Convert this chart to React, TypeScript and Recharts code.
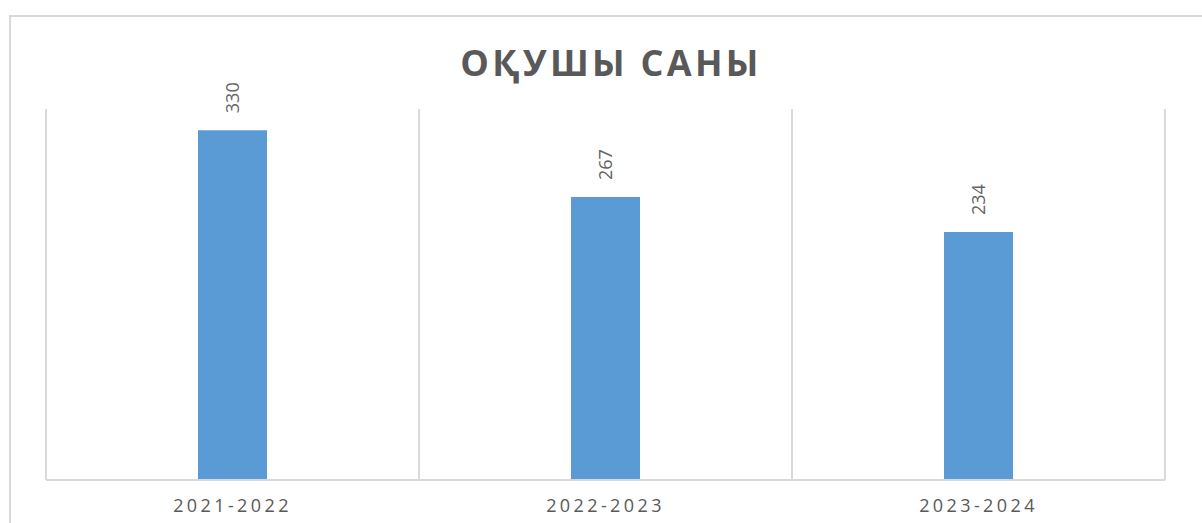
import React from "react";
import { BarChart, Bar, XAxis, YAxis, CartesianGrid, LabelList } from "recharts";

const categories = ["2021-2022", "2022-2023", "2023-2024"];
const students = [330, 267, 234];
const gridTicks = [0, 1, 2, 3];
const title = "ОҚУШЫ САНЫ";

const data = categories.map((year, i) => ({ year, value: students[i], pos: i + 0.5 }));

const FONT = "'Open Sans', 'DejaVu Sans', sans-serif";
const TEXT = "#595959";

const RotLabel = (props: any) => {
  const { x, y, width, value } = props;
  const cx = x + width / 2;
  const ty = y - 17;
  return (
    <text
      x={cx}
      y={ty}
      transform={`rotate(-90 ${cx} ${ty})`}
      textAnchor="start"
      dominantBaseline="central"
      fill="#646464"
      fontSize={18}
      fontFamily={FONT}
    >
      {value}
    </text>
  );
};

const Tick = (props: any) => {
  const { x, y, payload } = props;
  return (
    <text
      x={x}
      y={y + 24}
      textAnchor="middle"
      fill={TEXT}
      fontSize={18}
      fontFamily={FONT}
      letterSpacing={3.4}
    >
      {payload.value}
    </text>
  );
};

export default function App() {
  return (
    <div style={{ position: "absolute", left: 0, top: 0, width: 1202, height: 523, background: "#fff", overflow: "hidden" }}>
      <div
        style={{
          position: "absolute",
          left: 9,
          top: 15,
          width: 1220,
          height: 540,
          border: "2px solid #d9d9d9",
          boxSizing: "border-box",
        }}
      />
      <div
        style={{
          position: "absolute",
          left: 0,
          width: 1222,
          top: 38,
          textAlign: "center",
          fontFamily: FONT,
          fontWeight: 700,
          fontSize: 36,
          letterSpacing: 3.3,
          color: TEXT,
          lineHeight: "50px",
        }}
      >
        {title}
      </div>
      <div style={{ position: "absolute", left: 0, top: 0 }}>
        <BarChart
          width={1202}
          height={523}
          data={data}
          margin={{ top: 109, right: 37, bottom: 13, left: 46 }}
        >
          <XAxis xAxisId="num" type="number" dataKey="pos" domain={[0, 3]} ticks={gridTicks} hide />
          <XAxis
            xAxisId="cat"
            dataKey="year"
            type="category"
            height={30}
            axisLine={{ stroke: "#d9d9d9", strokeWidth: 2 }}
            tickLine={false}
            tick={<Tick />}
            interval={0}
          />
          <YAxis domain={[0, 350]} hide />
          <CartesianGrid xAxisId="num" horizontal={false} stroke="#d9d9d9" strokeWidth={2} />
          <Bar xAxisId="cat" dataKey="value" fill="#5b9bd5" barSize={69} isAnimationActive={false}>
            <LabelList dataKey="value" content={<RotLabel />} />
          </Bar>
        </BarChart>
      </div>
    </div>
  );
}
